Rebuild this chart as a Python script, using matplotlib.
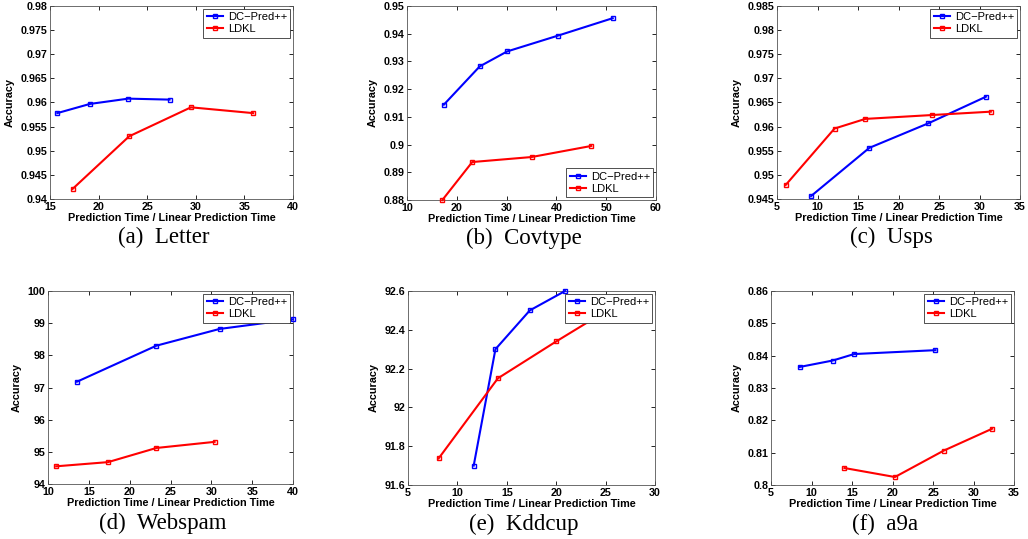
import matplotlib
matplotlib.use("Agg")
import matplotlib.pyplot as plt
from matplotlib.ticker import MultipleLocator, FuncFormatter

# Data (x = prediction time / linear prediction time)
letter_dc_x = [15.75, 19.1, 23.05, 27.3]
letter_dc_y = [0.9578, 0.9597, 0.9608, 0.9606]
letter_ldkl_x = [17.33, 23.15, 29.5, 35.9]
letter_ldkl_y = [0.9421, 0.9530, 0.9590, 0.9578]

cov_dc_x = [17.4, 24.6, 30.1, 40.3, 51.3]
cov_dc_y = [0.9144, 0.9282, 0.9336, 0.9393, 0.9456]
cov_ldkl_x = [17.1, 23.1, 35.0, 47.0]
cov_ldkl_y = [0.8800, 0.8937, 0.8955, 0.8995]

usps_dc_x = [9.2, 16.4, 23.7, 30.8]
usps_dc_y = [0.9456, 0.9556, 0.9607, 0.9662]
usps_ldkl_x = [6.07, 12.1, 15.9, 24.1, 31.4]
usps_ldkl_y = [0.9479, 0.9596, 0.9616, 0.9624, 0.9631]

web_dc_x = [13.55, 23.27, 31.0, 40.0]
web_dc_y = [97.18, 98.30, 98.82, 99.12]
web_ldkl_x = [11.0, 17.35, 23.27, 30.4]
web_ldkl_y = [94.55, 94.68, 95.12, 95.31]

kdd_dc_x = [11.65, 13.85, 17.33, 20.9]
kdd_dc_y = [91.70, 92.30, 92.50, 92.60]
kdd_ldkl_x = [8.1, 14.1, 20.0, 25.8]
kdd_ldkl_y = [91.737, 92.15, 92.34, 92.52]

a9a_dc_x = [8.53, 12.63, 15.26, 25.3]
a9a_dc_y = [0.8365, 0.8385, 0.8405, 0.8417]
a9a_ldkl_x = [14.07, 20.3, 26.3, 32.3]
a9a_ldkl_y = [0.80525, 0.80247, 0.8106, 0.8174]

captions = ["(a)  Letter", "(b)  Covtype", "(c)  Usps",
            "(d)  Webspam", "(e)  Kddcup", "(f)  a9a"]
series_names = ["DC\u2212Pred++", "LDKL"]

W, H = 1028, 539
# axes boxes in pixels: left, top, right, bottom
boxes = [(50, 6, 293, 199), (407, 6, 656, 200), (777, 6, 1020, 199),
         (48, 291, 293, 484), (408, 291, 655, 485), (771, 291, 1014, 485)]
xlims = [(15, 40), (10, 60), (5, 35), (10, 40), (5, 30), (5, 35)]
ylims = [(0.94, 0.98), (0.88, 0.95), (0.945, 0.985), (94, 100), (91.6, 92.6), (0.80, 0.86)]
xsteps = [5, 10, 5, 5, 5, 5]
ysteps = [0.005, 0.01, 0.005, 1, 0.2, 0.01]
legend_locs = ["upper right", "lower right", "upper right",
               "upper right", "upper right", "upper right"]

data = [
    (letter_dc_x, letter_dc_y, letter_ldkl_x, letter_ldkl_y),
    (cov_dc_x, cov_dc_y, cov_ldkl_x, cov_ldkl_y),
    (usps_dc_x, usps_dc_y, usps_ldkl_x, usps_ldkl_y),
    (web_dc_x, web_dc_y, web_ldkl_x, web_ldkl_y),
    (kdd_dc_x, kdd_dc_y, kdd_ldkl_x, kdd_ldkl_y),
    (a9a_dc_x, a9a_dc_y, a9a_ldkl_x, a9a_ldkl_y),
]

plt.rcParams["font.family"] = ["Liberation Sans", "DejaVu Sans"]

fig = plt.figure(figsize=(W / 100, H / 100), dpi=100)

fmt = FuncFormatter(lambda v, p: "%g" % round(v, 6))

for i, (dx, dy, lx, ly) in enumerate(data):
    l, t, r, b = boxes[i]
    ax = fig.add_axes([l / W, 1 - b / H, (r - l) / W, (b - t) / H])
    ax.plot(dx, dy, color="#0000ff", lw=1.5, marker="s", ms=3.5, mfc="none",
            mew=1.0, label=series_names[0], clip_on=False, zorder=3)
    ax.plot(lx, ly, color="#ff0000", lw=1.5, marker="s", ms=3.5, mfc="none",
            mew=1.0, label=series_names[1], clip_on=False, zorder=3)
    ax.set_xlim(*xlims[i])
    ax.set_ylim(*ylims[i])
    ax.xaxis.set_major_locator(MultipleLocator(xsteps[i]))
    ax.yaxis.set_major_locator(MultipleLocator(ysteps[i]))
    ax.xaxis.set_major_formatter(fmt)
    ax.yaxis.set_major_formatter(fmt)
    ax.tick_params(direction="in", length=3, width=0.6, top=True, right=True,
                   labelsize=7.7, pad=2, colors="#000000")
    for lab in ax.get_xticklabels() + ax.get_yticklabels():
        lab.set_fontweight("bold")
    for sp in ax.spines.values():
        sp.set_linewidth(0.6)
        sp.set_color("#555555")
    ax.set_xlabel("Prediction Time / Linear Prediction Time", fontsize=7.8,
                  fontweight="bold", labelpad=1)
    ax.set_ylabel("Accuracy", fontsize=7.8, fontweight="bold", labelpad=4)
    leg = ax.legend(loc=legend_locs[i], fontsize=8, frameon=True, fancybox=False,
                    borderaxespad=0.25, handlelength=1.5, handletextpad=0.4,
                    borderpad=0.3, labelspacing=0.2, framealpha=1)
    leg.get_frame().set_edgecolor("#333333")
    leg.get_frame().set_linewidth(0.6)
    leg.set_zorder(5)
    cap_y = -(38 if i < 3 else 39) / (b - t)
    ax.text(0.47, cap_y, captions[i], transform=ax.transAxes, ha="center",
            va="center", fontsize=16.5, family="Liberation Serif")

fig.savefig("out.png", dpi=100)
